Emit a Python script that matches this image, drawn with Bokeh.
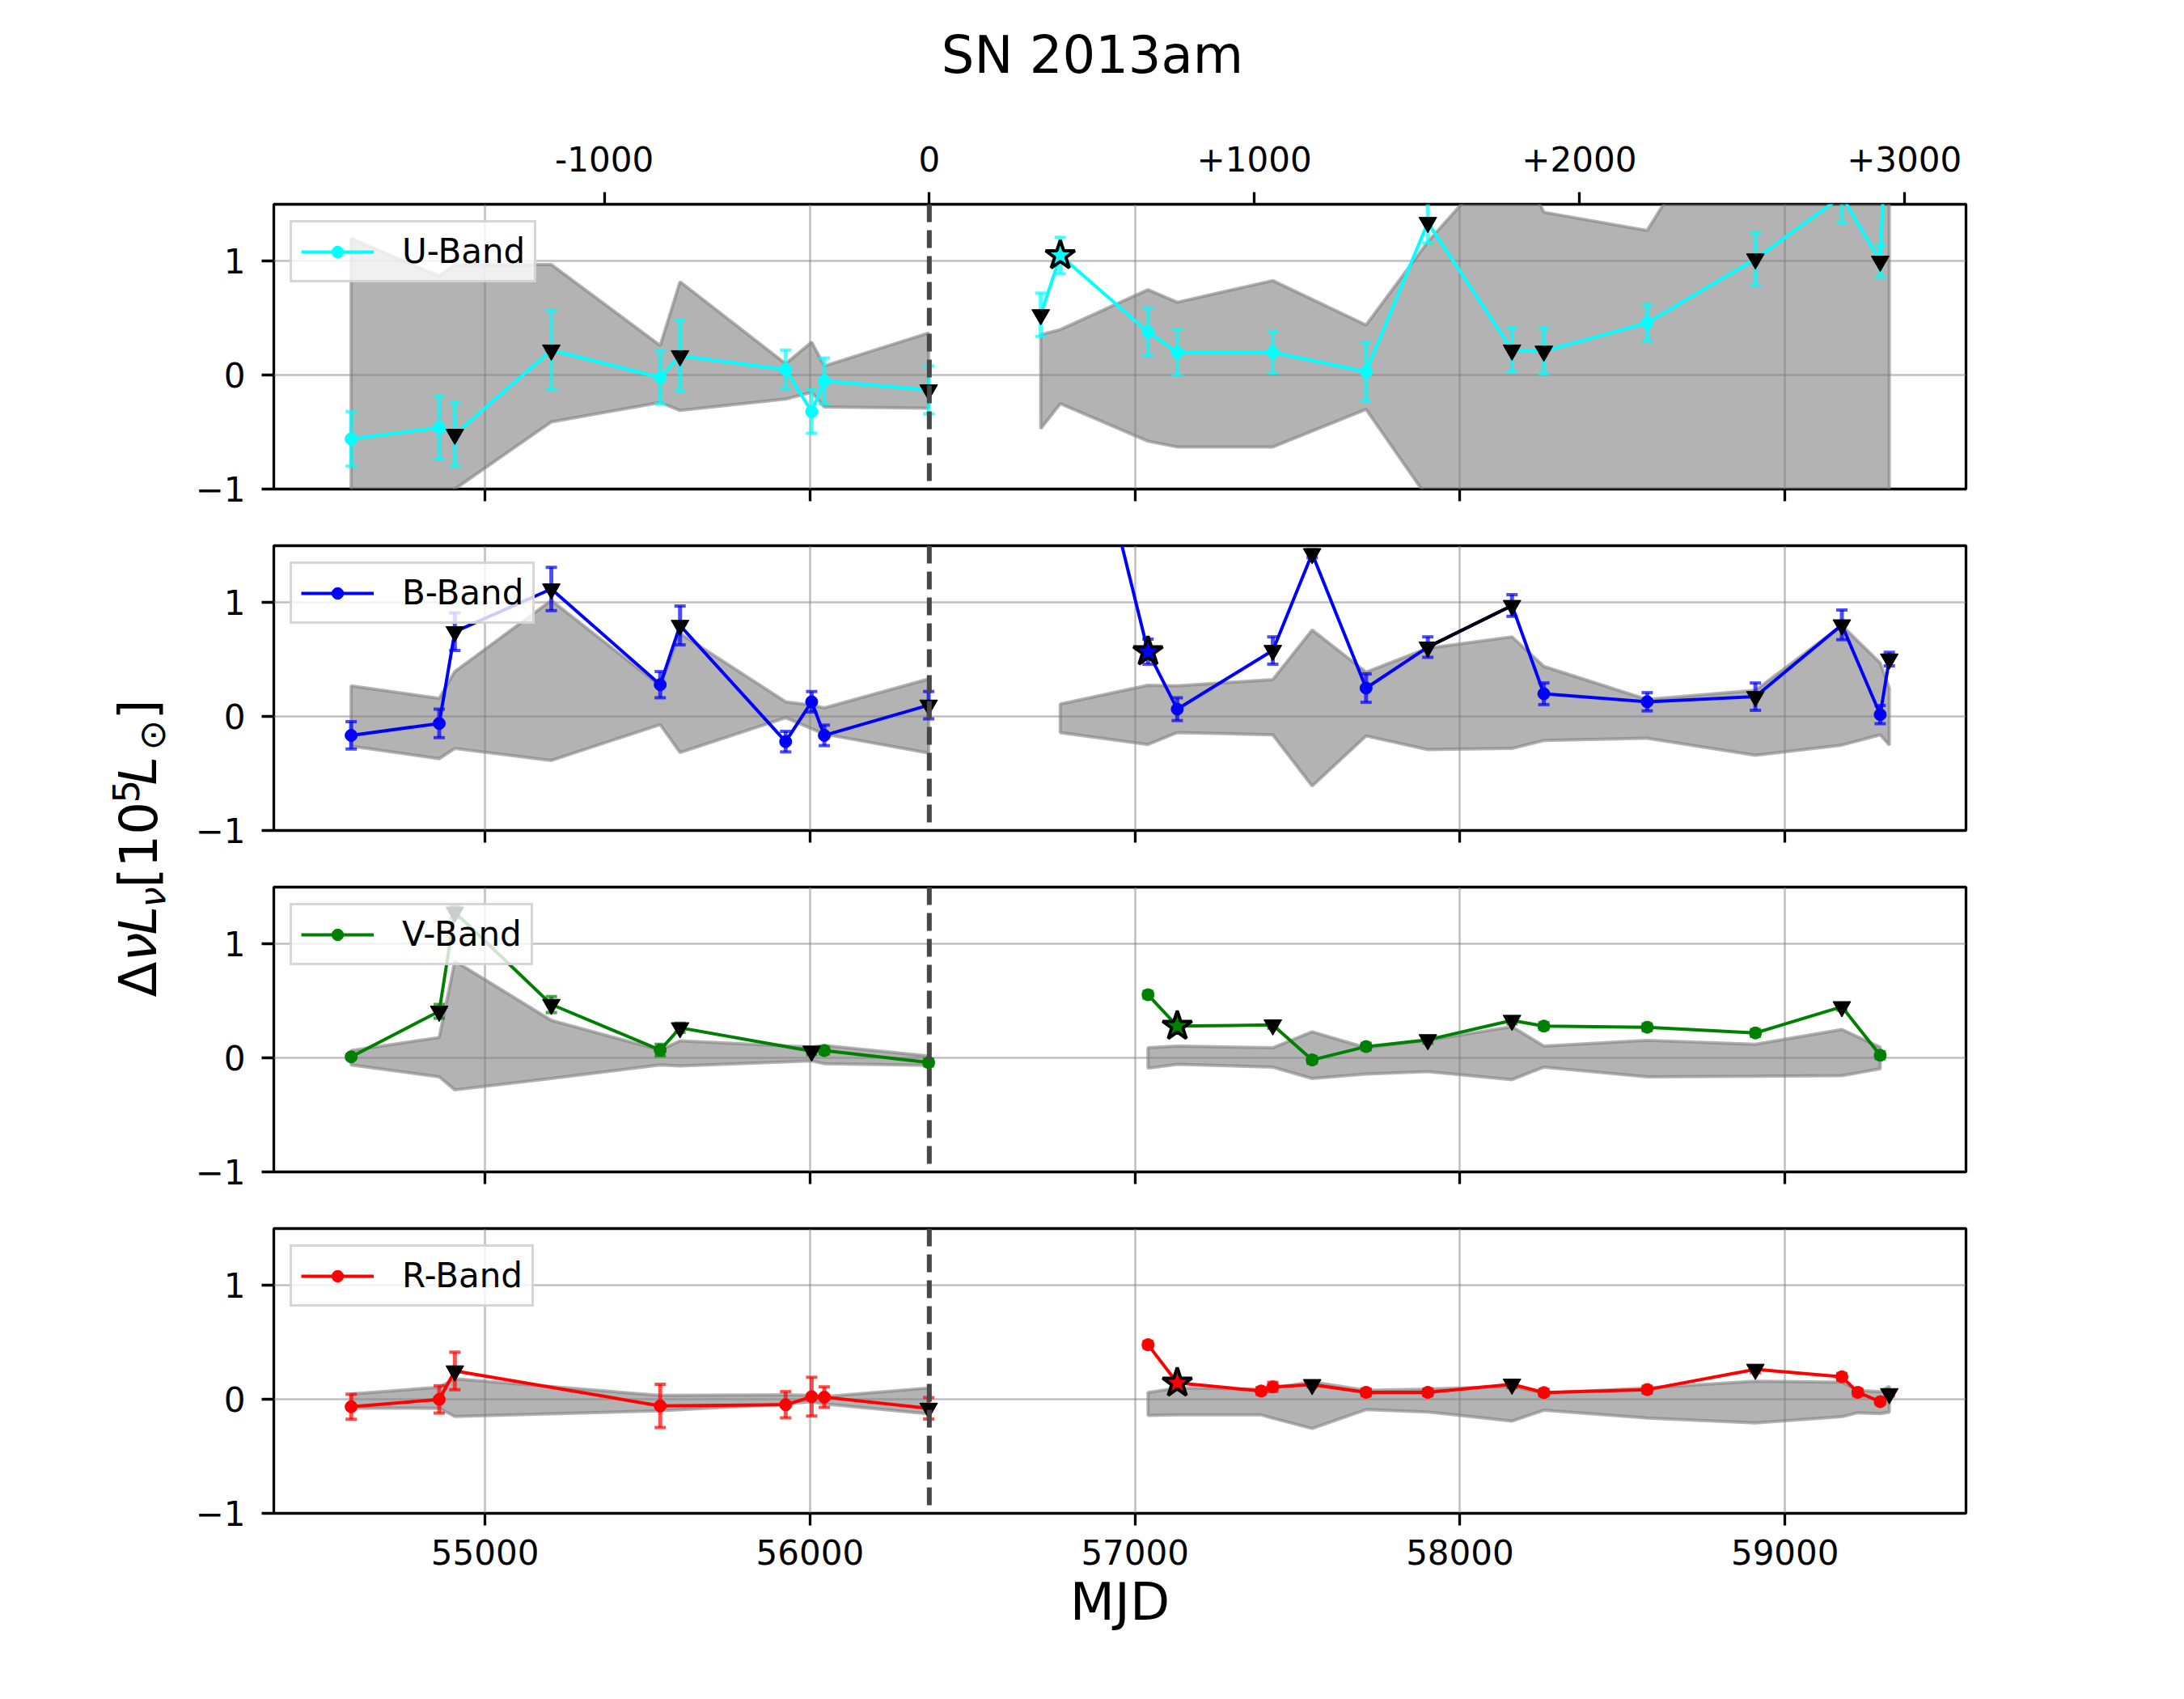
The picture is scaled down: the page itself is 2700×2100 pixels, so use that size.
import math
from bokeh.plotting import figure
from bokeh.models import (Range1d, FixedTicker, LinearAxis, Label, Legend, LegendItem,
                          Span, CustomJSTickFormatter)
from bokeh.layouts import column, row
from bokeh.embed import file_html
from bokeh.resources import INLINE

FONT = "DejaVu Sans"
TITLE = "SN 2013am"
T0 = 56367                      # reference epoch (phase 0)
X_START, X_END = 54350, 59557
Y_START, Y_END = -1.0, 1.5
MJD_TICKS = [55000, 56000, 57000, 58000, 59000]
PHASE_TICKS = [-1000, 0, 1000, 2000, 3000]
VAL_TICKS = [-1, 0, 1]

# ---------------- U band ----------------
U_pre_mjd = [54588, 54859, 54907, 55204, 55539, 55600, 55925, 56005, 56044, 56365]
U_pre_val = [-0.56, -0.46, -0.52, 0.22, -0.02, 0.17, 0.05, -0.32, -0.05, -0.13]
U_pre_err = [0.24, 0.28, 0.28, 0.35, 0.23, 0.31, 0.17, 0.19, 0.20, 0.21]
U_pre_kind = ["o", "o", "v", "v", "o", "v", "o", "o", "o", "v"]
U_pre_hi = [1.20, 0.87, 0.97, 0.97, 0.26, 0.82, 0.10, 0.29, 0.08, 0.37]
U_pre_lo = [-1.70, -1.25, -1.00, -0.41, -0.24, -0.31, -0.21, -0.15, -0.28, -0.29]

U_post_mjd = [56710, 56770, 57040, 57130, 57424, 57711, 57901, 58160, 58258, 58576, 58909, 59175, 59293, 59321]
U_post_val = [0.53, 1.05, 0.38, 0.20, 0.20, 0.03, 1.34, 0.22, 0.21, 0.46, 1.02, 1.57, 1.00, 2.85]
U_post_err = [0.19, 0.16, 0.21, 0.20, 0.18, 0.26, 0.18, 0.19, 0.20, 0.16, 0.23, 0.23, 0.14, 0.30]
U_post_kind = ["v", "s", "o", "o", "o", "o", "v", "v", "v", "o", "v", "o", "v", "v"]
U_post_hi = [0.355, 0.40, 0.75, 0.64, 0.83, 0.44, 1.17, 2.0, 1.43, 1.27, 2.8, 2.8, 2.6, 2.6]
U_post_lo = [-0.47, -0.25, -0.58, -0.63, -0.63, -0.30, -1.08, -1.6, -1.6, -1.7, -1.9, -2.0, -2.0, -2.0]

# ---------------- B band ----------------
B_pre_mjd = [54588, 54859, 54907, 55204, 55539, 55600, 55925, 56005, 56044, 56365]
B_pre_val = [-0.165, -0.06, 0.745, 1.12, 0.28, 0.80, -0.22, 0.13, -0.165, 0.10]
B_pre_err = [0.12, 0.125, 0.165, 0.19, 0.115, 0.17, 0.09, 0.09, 0.09, 0.12]
B_pre_kind = ["o", "o", "v", "v", "o", "v", "o", "o", "o", "v"]
B_pre_hi = [0.27, 0.16, 0.395, 1.02, 0.27, 0.73, 0.13, 0.10, 0.076, 0.33]
B_pre_lo = [-0.26, -0.37, -0.28, -0.385, -0.07, -0.315, -0.01, -0.106, -0.154, -0.32]

B_post_mjd = [56770, 57040, 57130, 57424, 57545, 57711, 57901, 58160, 58258, 58576, 58909, 59175, 59293, 59321]
B_post_val = [3.70, 0.57, 0.065, 0.58, 1.43, 0.25, 0.61, 0.975, 0.20, 0.13, 0.175, 0.805, 0.017, 0.505]
B_post_err = [0.20, 0.11, 0.10, 0.12, 0.035, 0.125, 0.09, 0.095, 0.095, 0.08, 0.12, 0.13, 0.08, 0.06]
B_post_kind = ["o", "s", "o", "v", "v", "o", "v", "v", "o", "o", "v", "v", "o", "v"]
B_post_hi = [0.11, 0.275, 0.27, 0.325, 0.76, 0.39, 0.60, 0.70, 0.44, 0.15, 0.23, 0.80, 0.47, 0.25]
B_post_lo = [-0.14, -0.245, -0.14, -0.16, -0.61, -0.17, -0.29, -0.28, -0.21, -0.19, -0.34, -0.25, -0.16, -0.25]
B_black_pair = [57901, 58160]   # consecutive limits joined in black

# ---------------- V band ----------------
V_pre_mjd = [54588, 54859, 54907, 55204, 55539, 55600, 56005, 56044, 56365]
V_pre_val = [0.01, 0.41, 1.28, 0.47, 0.07, 0.265, 0.06, 0.065, -0.04]
V_pre_err = [0.02, 0.06, 0.05, 0.07, 0.05, 0.04, 0.03, 0.03, 0.03]
V_pre_kind = ["o", "v", "v", "v", "o", "v", "v", "o", "o"]
V_pre_hi = [0.065, 0.18, 0.85, 0.33, 0.07, 0.15, 0.095, 0.11, 0.017]
V_pre_lo = [-0.06, -0.165, -0.28, -0.18, -0.06, -0.07, -0.025, -0.05, -0.065]

V_post_mjd = [57040, 57130, 57424, 57545, 57711, 57901, 58160, 58258, 58576, 58909, 59175, 59293]
V_post_val = [0.555, 0.28, 0.29, -0.017, 0.10, 0.16, 0.33, 0.28, 0.27, 0.22, 0.45, 0.024]
V_post_err = [0.03, 0.03, 0.03, 0.03, 0.03, 0.03, 0.03, 0.03, 0.03, 0.03, 0.03, 0.03]
V_post_kind = ["o", "s", "v", "o", "o", "v", "v", "o", "o", "o", "v", "o"]
V_post_hi = [0.09, 0.105, 0.09, 0.23, 0.09, 0.155, 0.275, 0.105, 0.155, 0.12, 0.25, 0.095]
V_post_lo = [-0.09, -0.055, -0.08, -0.18, -0.14, -0.12, -0.19, -0.08, -0.165, -0.16, -0.155, -0.095]

# ---------------- R band ----------------
R_pre_mjd = [54588, 54859, 54907, 55539, 55925, 56005, 56044, 56365]
R_pre_val = [-0.064, 0.0, 0.25, -0.057, -0.047, 0.024, 0.02, -0.078]
R_pre_err = [0.11, 0.12, 0.165, 0.19, 0.115, 0.17, 0.09, 0.094]
R_pre_kind = ["o", "o", "v", "o", "o", "o", "o", "v"]
R_pre_hi = [0.047, 0.107, 0.18, 0.035, 0.04, 0.035, 0.024, 0.10]
R_pre_lo = [-0.076, -0.078, -0.15, -0.10, -0.04, -0.02, -0.04, -0.126]

R_post_mjd = [57040, 57130, 57388, 57424, 57545, 57711, 57901, 58160, 58258, 58576, 58909, 59175, 59224, 59293, 59321]
R_post_val = [0.48, 0.145, 0.074, 0.11, 0.13, 0.062, 0.062, 0.133, 0.06, 0.086, 0.264, 0.198, 0.062, -0.02, 0.05]
R_post_err = [0.03, 0.03, 0.03, 0.04, 0.02, 0.03, 0.03, 0.03, 0.03, 0.03, 0.03, 0.03, 0.03, 0.02, 0.02]
R_post_kind = ["o", "s", "o", "o", "v", "o", "o", "v", "o", "o", "v", "o", "o", "o", "v"]
R_post_hi = [0.06, 0.10, 0.09, 0.10, 0.155, 0.08, 0.09, 0.115, 0.055, 0.10, 0.16, 0.15, 0.08, 0.067, 0.115]
R_post_lo = [-0.14, -0.136, -0.136, -0.165, -0.255, -0.09, -0.11, -0.19, -0.095, -0.164, -0.207, -0.152, -0.117, -0.124, -0.112]

BANDS = [
    ("U-Band", "cyan",
     (U_pre_mjd, U_pre_val, U_pre_err, U_pre_kind, U_pre_hi, U_pre_lo),
     (U_post_mjd, U_post_val, U_post_err, U_post_kind, U_post_hi, U_post_lo), None),
    ("B-Band", "blue",
     (B_pre_mjd, B_pre_val, B_pre_err, B_pre_kind, B_pre_hi, B_pre_lo),
     (B_post_mjd, B_post_val, B_post_err, B_post_kind, B_post_hi, B_post_lo), B_black_pair),
    ("V-Band", "green",
     (V_pre_mjd, V_pre_val, V_pre_err, V_pre_kind, V_pre_hi, V_pre_lo),
     (V_post_mjd, V_post_val, V_post_err, V_post_kind, V_post_hi, V_post_lo), None),
    ("R-Band", "red",
     (R_pre_mjd, R_pre_val, R_pre_err, R_pre_kind, R_pre_hi, R_pre_lo),
     (R_post_mjd, R_post_val, R_post_err, R_post_kind, R_post_hi, R_post_lo), None),
]

# ---------------- layout geometry (px) ----------------
TOTAL_W, TOTAL_H = 2692, 2092
TITLE_H = 140
LAB_W = 236
PANEL_W = TOTAL_W - LAB_W
BORDER_L, BORDER_R = 102, 262
FRAME_H = 352
PANEL_BORDERS = [(112, 35), (35, 35), (35, 35), (35, 222)]

TICK_FS = "42px"
BIG_FS = "64px"


def style_axis(ax, show_labels=True, standoff=23):
    ax.axis_line_color = None
    ax.major_tick_in = 0
    ax.major_tick_out = 15
    ax.major_tick_line_width = 3.3
    ax.major_tick_line_color = "black"
    ax.minor_tick_line_color = None
    ax.major_label_text_font = FONT
    ax.major_label_text_color = "black"
    ax.major_label_standoff = standoff
    if show_labels:
        ax.major_label_text_font_size = TICK_FS
    else:
        ax.major_label_text_font_size = "0px"
        ax.formatter = CustomJSTickFormatter(code="return '';")


def make_panel(idx, name, color, pre, post, black_pair):
    top_b, bot_b = PANEL_BORDERS[idx]
    first = idx == 0
    last = idx == len(BANDS) - 1
    p = figure(width=PANEL_W, height=top_b + FRAME_H + bot_b,
               x_range=Range1d(X_START, X_END), y_range=Range1d(Y_START, Y_END),
               output_backend="svg", toolbar_location=None,
               min_border_left=BORDER_L, min_border_right=BORDER_R,
               min_border_top=top_b, min_border_bottom=bot_b)
    p.outline_line_color = "black"
    p.outline_line_width = 3.3
    p.outline_line_alpha = 1.0

    p.xgrid.ticker = FixedTicker(ticks=MJD_TICKS)
    p.ygrid.ticker = FixedTicker(ticks=VAL_TICKS)
    for g in (p.xgrid[0], p.ygrid[0]):
        g.grid_line_color = "gray"
        g.grid_line_alpha = 0.5
        g.grid_line_width = 2.5

    p.xaxis.ticker = FixedTicker(ticks=MJD_TICKS)
    style_axis(p.xaxis[0], show_labels=last, standoff=17)
    p.yaxis.ticker = FixedTicker(ticks=VAL_TICKS)
    style_axis(p.yaxis[0], standoff=20)
    p.yaxis.formatter = CustomJSTickFormatter(
        code="return tick < 0 ? '\u2212' + Math.abs(tick) : String(tick);")

    if first:
        top = LinearAxis(ticker=FixedTicker(ticks=[T0 + k for k in PHASE_TICKS]),
                         formatter=CustomJSTickFormatter(
                             code="const d = Math.round(tick - %d); return d > 0 ? '+' + d : String(d);" % T0))
        style_axis(top, standoff=26)
        p.add_layout(top, "above")
    if last:
        p.xaxis.axis_label = "MJD"
        p.xaxis.axis_label_text_font = FONT
        p.xaxis.axis_label_text_font_size = BIG_FS
        p.xaxis.axis_label_text_font_style = "normal"
        p.xaxis.axis_label_text_color = "black"
        p.xaxis.axis_label_standoff = 6

    legend_renderers = None
    for seg in (pre, post):
        mjd, val, err, kind, hi, lo = seg
        poly = p.patch(mjd + mjd[::-1], hi + lo[::-1], fill_color="gray", fill_alpha=0.6,
                       line_color="gray", line_alpha=0.6, line_width=4)
        poly.level = "image"
        e_lo = [v - e for v, e in zip(val, err)]
        e_hi = [v + e for v, e in zip(val, err)]
        p.segment(mjd, e_lo, mjd, e_hi, line_color=color, line_alpha=0.7, line_width=5)
        p.scatter(mjd + mjd, e_lo + e_hi, marker="dash", size=14, line_color=color,
                  line_alpha=0.7, line_width=4)
        lr = p.line(mjd, val, line_color=color, line_width=4)
        if black_pair is not None and black_pair[0] in mjd and black_pair[1] in mjd:
            i0, i1 = mjd.index(black_pair[0]), mjd.index(black_pair[1])
            p.line([mjd[i0], mjd[i1]], [val[i0], val[i1]], line_color="black", line_width=4)
        io = [i for i, k in enumerate(kind) if k == "o"]
        cr = p.scatter([mjd[i] for i in io], [val[i] for i in io], marker="circle", size=15,
                       fill_color=color, line_color=color)
        iv = [i for i, k in enumerate(kind) if k == "v"]
        p.scatter([mjd[i] for i in iv], [val[i] for i in iv], marker="inverted_triangle",
                  size=22, fill_color="black", line_color="black")
        isx = [i for i, k in enumerate(kind) if k == "s"]
        if isx:
            p.scatter([mjd[i] for i in isx], [val[i] for i in isx], marker="star", size=38,
                      fill_color=color, line_color="black", line_width=4)
        if legend_renderers is None:
            legend_renderers = [lr, cr]

    p.add_layout(Span(location=T0, dimension="height", line_color="#474747",
                      line_dash="22 10", line_width=6))

    leg = Legend(items=[LegendItem(label=name, renderers=legend_renderers)],
                 location="top_left", margin=20, padding=11, spacing=0,
                 glyph_width=90, glyph_height=36, label_standoff=35,
                 label_text_font=FONT, label_text_font_size=TICK_FS, label_text_color="black",
                 border_line_color="#cccccc", border_line_width=3, border_line_alpha=0.8,
                 background_fill_color="white", background_fill_alpha=0.8)
    p.add_layout(leg)
    return p


panels = [make_panel(i, *b) for i, b in enumerate(BANDS)]

# title strip (data units == page pixels, y downward)
tfig = figure(width=TOTAL_W, height=TITLE_H,
              x_range=Range1d(0, TOTAL_W), y_range=Range1d(TITLE_H, 0),
              output_backend="svg", toolbar_location=None, min_border=0,
              x_axis_location=None, y_axis_location=None)
tfig.outline_line_color = None
tfig.grid.visible = False
tfig.add_layout(Label(x=1350, y=67, text=TITLE, text_align="center", text_baseline="middle",
                      text_font=FONT, text_font_size=BIG_FS, text_color="black"))

# y-label strip (data units == page pixels, y downward)
lfig = figure(width=LAB_W, height=TOTAL_H - TITLE_H,
              x_range=Range1d(0, LAB_W), y_range=Range1d(TOTAL_H, TITLE_H),
              output_backend="svg", toolbar_location=None, min_border=0,
              x_axis_location=None, y_axis_location=None)
lfig.outline_line_color = None
lfig.grid.visible = False
YL_START = 1232
YL_MID = 170
# (text, advance offset, x of text middle, size, italic)
YL_PIECES = [
    ("\u0394", 0, YL_MID, 64, False),
    ("\u03bd", 44, YL_MID, 64, True),
    ("L", 77, YL_MID, 64, True),
    ("\u03bd", 111, YL_MID + 18, 45, True),
    ("[", 135, YL_MID, 64, False),
    ("10", 160, YL_MID, 64, False),
    ("5", 240, YL_MID - 15, 45, False),
    ("L", 262, YL_MID, 64, True),
    ("\u2299", 305, YL_MID + 18, 45, False),
    ("]", 343, YL_MID, 64, False),
]
for txt, off, mx, fs, it in YL_PIECES:
    lfig.add_layout(Label(x=mx, y=YL_START - off, text=txt, angle=math.pi / 2,
                          text_align="left", text_baseline="middle",
                          text_font=FONT, text_font_size="%dpx" % fs,
                          text_font_style="italic" if it else "normal", text_color="black"))

layout = column(tfig, row(lfig, column(*panels)))

open("out.html", "w", encoding="utf-8").write(file_html(layout, INLINE))
